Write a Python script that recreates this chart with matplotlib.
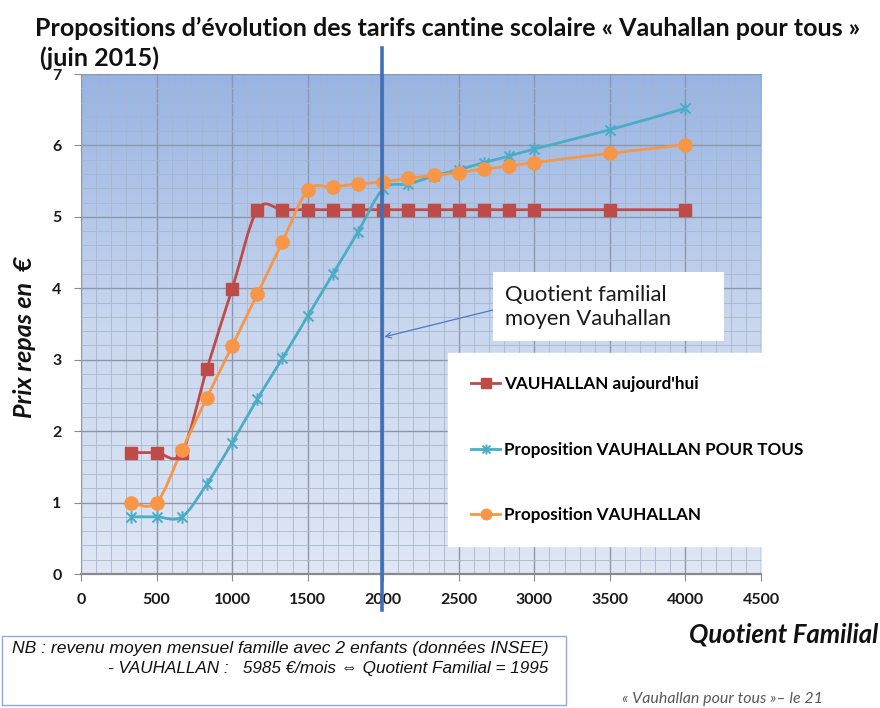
import numpy as np
import matplotlib
matplotlib.use("Agg")
import matplotlib.pyplot as plt
from matplotlib.path import Path
from matplotlib.patches import PathPatch, Rectangle
from matplotlib.lines import Line2D
from matplotlib.colors import LinearSegmentedColormap

# ---------------- data ----------------
quotient = [333, 500, 667, 833, 1000, 1167, 1333, 1500, 1667, 1833, 2000,
            2167, 2333, 2500, 2667, 2833, 3000, 3500, 4000]
aujourdhui = [1.70, 1.70, 1.70, 2.87, 3.99, 5.10, 5.10, 5.10, 5.10, 5.10, 5.10,
              5.10, 5.10, 5.10, 5.10, 5.10, 5.10, 5.10, 5.10]
pour_tous = [0.80, 0.80, 0.80, 1.26, 1.84, 2.45, 3.02, 3.61, 4.20, 4.79, 5.39,
             5.46, 5.57, 5.66, 5.76, 5.85, 5.95, 6.22, 6.52]
proposition = [1.00, 1.00, 1.73, 2.47, 3.19, 3.92, 4.65, 5.37, 5.42, 5.46, 5.49,
               5.54, 5.58, 5.62, 5.67, 5.71, 5.76, 5.89, 6.01]
series_labels = ["VAUHALLAN aujourd'hui", "Proposition VAUHALLAN POUR TOUS",
                 "Proposition VAUHALLAN"]
qf_moyen = 1995
x_ticks = [0, 500, 1000, 1500, 2000, 2500, 3000, 3500, 4000, 4500]
y_ticks = [0, 1, 2, 3, 4, 5, 6, 7]

RED = "#be4b48"
TEAL = "#4bacc6"
ORANGE = "#f79646"

W, H = 880, 708
fig = plt.figure(figsize=(W / 100, H / 100), dpi=100)
fig.patch.set_facecolor("white")

def fx(px):
    return px / W

def fy(py):
    return 1 - py / H

ax = fig.add_axes([fx(81), fy(574), fx(761) - fx(81), (574 - 74) / H])
ax.set_xlim(0, 4500)
ax.set_ylim(0, 7)

# gradient background
grad = np.linspace(0, 1, 256).reshape(-1, 1)
cmap = LinearSegmentedColormap.from_list("bg", ["#dfe7f4", "#c9d7ef", "#98b4e3"])
ax.imshow(grad, extent=[0, 4500, 0, 7], origin="lower", aspect="auto",
          cmap=cmap, zorder=0)

ax.set_xticks(x_ticks)
ax.set_yticks(y_ticks)
ax.set_xticks(np.arange(0, 4501, 100), minor=True)
ax.set_yticks(np.arange(0, 7.01, 0.2), minor=True)
ax.grid(which="major", color="#8e97a8", lw=1.0, zorder=1)
ax.grid(which="minor", color="#a8b6cc", lw=0.6, zorder=1)
ax.set_axisbelow(True)

for s in ["top", "right", "left"]:
    ax.spines[s].set_visible(False)
ax.spines["bottom"].set_color("#8a8a8a")
ax.spines["bottom"].set_linewidth(1.6)
ax.spines["bottom"].set_zorder(2)

ax.tick_params(axis="both", which="minor", length=0)
ax.tick_params(axis="x", which="major", length=5, color="#8a8a8a", pad=9)
ax.tick_params(axis="y", which="major", length=5, color="#8a8a8a", pad=9)
for lab in ax.get_xticklabels() + ax.get_yticklabels():
    lab.set_fontfamily("Lato")
    lab.set_fontweight("bold")
    lab.set_fontsize(11.5)
    lab.set_color("#1a1a1a")


def smooth_path(xs, ys):
    n = len(xs)
    verts = [(xs[0], ys[0])]
    codes = [Path.MOVETO]
    for i in range(n - 1):
        p0 = i - 1 if i > 0 else i
        p3 = i + 2 if i + 2 < n else i + 1
        c1 = (xs[i] + (xs[i + 1] - xs[p0]) / 6, ys[i] + (ys[i + 1] - ys[p0]) / 6)
        c2 = (xs[i + 1] - (xs[p3] - xs[i]) / 6, ys[i + 1] - (ys[p3] - ys[i]) / 6)
        verts += [c1, c2, (xs[i + 1], ys[i + 1])]
        codes += [Path.CURVE4] * 3
    return Path(verts, codes)

star = Path([(-1, -1), (1, 1), (-1, 1), (1, -1), (0, -1.25), (0, 1.25)],
            [Path.MOVETO, Path.LINETO, Path.MOVETO, Path.LINETO, Path.MOVETO, Path.LINETO])

styles = [
    (aujourdhui, RED, "s", 8.5, 1),
    (pour_tous, TEAL, star, 9, 1.4),
    (proposition, ORANGE, "o", 9.5, 1),
]
handles = []
for (vals, col, mk, ms, mew), lab in zip(styles, series_labels):
    ax.add_patch(PathPatch(smooth_path(quotient, vals), fill=False, edgecolor=col,
                           lw=2.0, zorder=3))
    ax.plot(quotient, vals, ls="none", marker=mk, ms=ms, color=col,
            mec=col, mfc=col, mew=mew, zorder=4)
    handles.append(Line2D([], [], color=col, lw=2.0, marker=mk, ms=ms * 0.8,
                          mec=col, mfc=col, mew=mew, label=lab))

# vertical line at the average quotient
ax.plot([qf_moyen, qf_moyen], [-0.5, 7.36], color="#3f6fb6", lw=2.6,
        clip_on=False, zorder=6)

# annotation box + arrow
fig.patches.append(Rectangle((fx(493), fy(341)), fx(724) - fx(493), (341 - 272) / H,
                             transform=fig.transFigure, facecolor="white",
                             edgecolor="none", zorder=7))
ax.annotate("", xy=(qf_moyen + 12, 3.32), xycoords="data",
            xytext=(fx(493), fy(310)), textcoords="figure fraction",
            arrowprops=dict(arrowstyle="->", color="#4a7bc4", lw=0.9,
                            shrinkA=0, shrinkB=0),
            zorder=7)
fig.text(fx(505), fy(307), "Quotient familial\nmoyen Vauhallan",
         fontsize=15.8, fontfamily="Lato", color="#1a1a1a", va="center", ha="left",
         linespacing=1.2, zorder=8)

# legend
leg = fig.legend(handles=handles, loc="upper left",
                 bbox_to_anchor=(fx(448), fy(353)), frameon=True,
                 prop=dict(family="Lato", weight="bold", size=12.3),
                 labelspacing=2.9, handlelength=1.7, handletextpad=0.25,
                 borderpad=1.35, borderaxespad=0, fancybox=False)
leg.get_frame().set_facecolor("white")
leg.get_frame().set_edgecolor("white")
leg.get_frame().set_alpha(1)
leg.set_zorder(8)

# titles
fig.text(fx(35), fy(28), "Propositions d’évolution des tarifs cantine scolaire « Vauhallan pour tous »",
         fontsize=18, fontweight="bold", fontfamily="Lato", va="center", ha="left",
         color="#111111")
fig.text(fx(40), fy(58), "(juin 2015)", fontsize=18, fontweight="bold",
         fontfamily="Lato", va="center", ha="left", color="#111111")

fig.text(fx(25), fy(337), "Prix repas en  €", rotation=90, fontsize=18,
         fontstyle="italic", fontweight="bold", fontfamily="Lato",
         va="center", ha="center", color="#111111")
fig.text(fx(878), fy(635), "Quotient Familial", fontsize=18.5, fontstyle="italic",
         fontweight="bold", fontfamily="Lato", va="center", ha="right", color="#111111")

# NB box
fig.patches.append(Rectangle((fx(2), fy(705)), fx(566) - fx(2), (705 - 636) / H,
                             transform=fig.transFigure, fill=False,
                             edgecolor="#8eaadb", lw=1.0))
fig.text(fx(12), fy(648), "NB : revenu moyen mensuel famille avec 2 enfants (données INSEE)",
         fontsize=12.6, fontstyle="italic", family=["Liberation Sans", "DejaVu Sans"],
         va="center", ha="left", color="#111111")
fig.text(fx(548), fy(668), "- VAUHALLAN :   5985 €/mois ⇔ Quotient Familial = 1995",
         fontsize=12.3, fontstyle="italic", family=["Liberation Sans", "DejaVu Sans"],
         va="center", ha="right", color="#111111")

fig.text(fx(622), fy(706), "« Vauhallan pour tous »– le 21", fontsize=11.5,
         fontstyle="italic", fontfamily="Lato", va="bottom", ha="left", color="#595959")

fig.savefig("out.png", dpi=100, facecolor="white")
